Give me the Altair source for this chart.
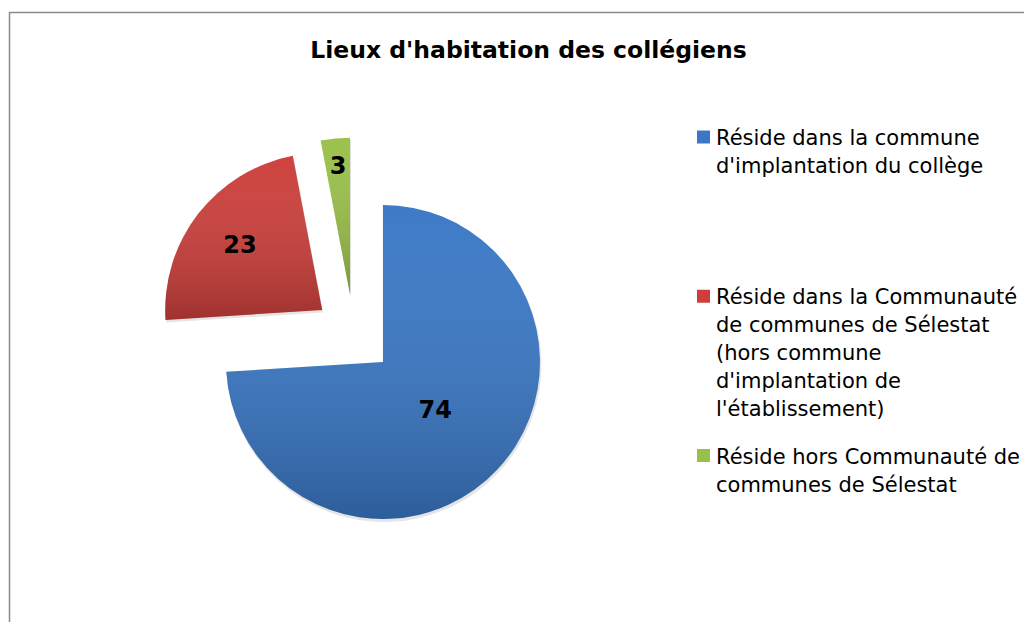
import altair as alt
import pandas as pd

# ---- data ----
legend_lines = [
    ["Réside dans la commune", "d'implantation du collège"],
    ["Réside dans la Communauté", "de communes de Sélestat", "(hors commune",
     "d'implantation de", "l'établissement)"],
    ["Réside hors Communauté de", "communes de Sélestat"],
]
categories = [" ".join(lines) for lines in legend_lines]
values = [74, 23, 3]

# ---- style ----
colors = ["#3A78C6", "#CC3F3B", "#9AC04A"]
TITLE = "Lieux d'habitation des collégiens"
W, H = 1016, 614
R = 157            # pie radius (px)
EXPLODE = 40 / R   # explosion distance, in radius units
CX, CY = 345.8, 326.6  # pie centre in view pixels

df = pd.DataFrame({
    "cat": categories,
    "value": values,
    "order": list(range(len(categories))),
    "label_text": ["\n".join(lines) for lines in legend_lines],
})

color_scale = alt.Scale(domain=categories, range=colors)
xs = alt.Scale(domain=[-1, 1], range=[CX - R, CX + R])
ys = alt.Scale(domain=[-1, 1], range=[CY + R, CY - R])
ts = alt.Scale(domain=[0, 1], range=[0, 6.283185307179586])

pie_base = alt.Chart(df).transform_window(
    cum="sum(value)", sort=[alt.SortField("order")]
).transform_joinaggregate(
    total="sum(value)"
).transform_calculate(
    f0="(datum.cum - datum.value) / datum.total",
    f1="datum.cum / datum.total",
).transform_calculate(
    mid="(datum.f0 + datum.f1) * PI",
).transform_calculate(
    cx=f"{EXPLODE} * sin(datum.mid)",
    cy=f"{EXPLODE} * cos(datum.mid)",
    lr="datum.value / datum.total >= 0.5 ? 0.457 : (datum.value / datum.total >= 0.1 ? 0.662 : 0.815)",
).transform_calculate(
    lx="datum.cx + datum.lr * sin(datum.mid)",
    ly="datum.cy + datum.lr * cos(datum.mid)",
)

arc_enc = dict(
    theta=alt.Theta("f0:Q", scale=ts),
    theta2="f1:Q",
    x=alt.X("cx:Q", scale=xs, axis=None),
    y=alt.Y("cy:Q", scale=ys, axis=None),
)

shadow = pie_base.mark_arc(
    outerRadius=R + 0.5, color="#000000", opacity=0.1, xOffset=1, yOffset=2.5
).encode(**arc_enc)

arcs = pie_base.mark_arc(outerRadius=R).encode(
    color=alt.Color("cat:N", scale=color_scale, legend=None),
    **arc_enc,
)

shade = pie_base.mark_arc(
    outerRadius=R,
    color=alt.Gradient(
        gradient="linear", x1=0, y1=0, x2=0, y2=1,
        stops=[
            alt.GradientStop(offset=0, color="rgba(255,255,255,0.02)"),
            alt.GradientStop(offset=1, color="rgba(0,0,0,0.22)"),
        ],
    ),
).encode(**arc_enc)

labels = pie_base.mark_text(
    font="DejaVu Sans", fontWeight="bold", fontSize=24, color="black",
    align="center", baseline="middle",
).encode(
    x=alt.X("lx:Q", scale=xs, axis=None),
    y=alt.Y("ly:Q", scale=ys, axis=None),
    text=alt.Text("value:Q"),
)

pie = alt.layer(shadow, arcs, shade, labels)

# ---- legend (drawn as marks) ----
leg_y = alt.Y("cat:N", sort=categories,
              scale=alt.Scale(type="point", domain=categories, range=[129, 447.5], padding=0),
              axis=None)

leg_sq = alt.Chart(df).mark_square(size=169, opacity=1).encode(
    x=alt.value(695.5),
    y=leg_y,
    color=alt.Color("cat:N", scale=color_scale, legend=None),
)
leg_txt = alt.Chart(df).mark_text(
    font="DejaVu Sans", fontSize=21, color="black", align="left",
    baseline="alphabetic", dy=8, lineBreak="\n", lineHeight=28,
).encode(
    x=alt.value(708),
    y=leg_y,
    text="label_text:N",
)
legend = alt.layer(leg_sq, leg_txt)

# ---- chart frame ----
frame_data = alt.Data(values=[{"k": 1}])
frame_left = alt.Chart(frame_data).mark_rule(color="#8a8a8a", strokeWidth=1.5).encode(
    x=alt.value(1.5), y=alt.value(4), y2=alt.value(H)
)
frame_top = alt.Chart(frame_data).mark_rule(color="#8a8a8a", strokeWidth=1.5).encode(
    x=alt.value(1.5), x2=alt.value(W), y=alt.value(4.5)
)

chart = alt.layer(frame_left, frame_top, pie, legend).resolve_scale(
    x="independent", y="independent"
).properties(
    width=W, height=H, padding=0, autosize="none",
    title=alt.TitleParams(
        TITLE, font="DejaVu Sans", fontSize=23.5, fontWeight="bold", color="black",
        anchor="middle", frame="group", orient="top", baseline="alphabetic",
        offset=0, dx=12.5, dy=73,
    ),
).configure_view(strokeWidth=0)

chart.save("out.html", embed_options={"renderer": "svg", "actions": False})
